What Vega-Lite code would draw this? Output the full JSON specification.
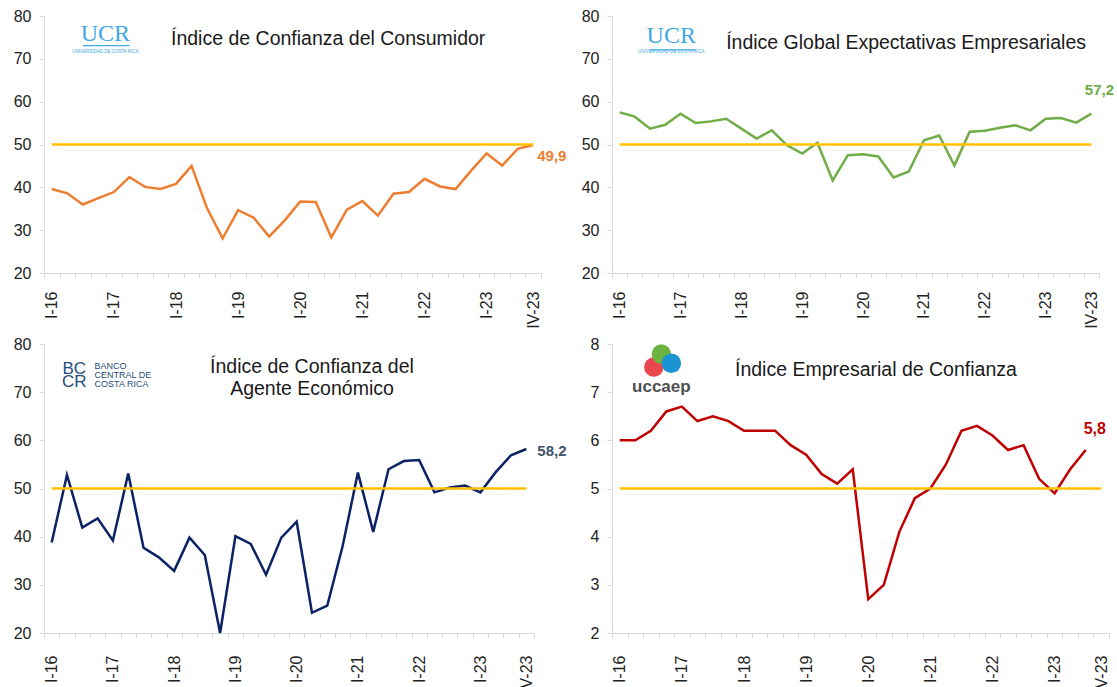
{
  "$schema": "https://vega.github.io/schema/vega-lite/v6.json",
  "background": "white",
  "padding": {"left": 13, "top": 8, "right": 0, "bottom": 0},
  "bounds": "flush",
  "columns": 2,
  "spacing": {"row": 71, "column": 71},
  "config": {
    "locale": {"number": {"decimal": ",", "thousands": ".", "grouping": [3], "currency": ["", ""]}},
    "view": {"stroke": null},
    "font": "Liberation Sans",
    "axis": {"labelFont": "Liberation Sans", "labelFontSize": 16, "labelColor": "#222222", "domainColor": "#D9D9D9", "tickColor": "#D9D9D9", "tickSize": 5, "grid": false, "domainWidth": 1}
  },
  "datasets": {
    "one": [{}],
    "consumidor": [
      {"q": "I-16", "v": 39.6}, {"q": "II-16", "v": 38.6}, {"q": "III-16", "v": 36.0}, {"q": "IV-16", "v": 37.5},
      {"q": "I-17", "v": 38.9}, {"q": "II-17", "v": 42.4}, {"q": "III-17", "v": 40.1}, {"q": "IV-17", "v": 39.6},
      {"q": "I-18", "v": 40.8}, {"q": "II-18", "v": 45.0}, {"q": "III-18", "v": 35.1}, {"q": "IV-18", "v": 28.1},
      {"q": "I-19", "v": 34.7}, {"q": "II-19", "v": 32.9}, {"q": "III-19", "v": 28.5}, {"q": "IV-19", "v": 32.3},
      {"q": "I-20", "v": 36.7}, {"q": "II-20", "v": 36.6}, {"q": "III-20", "v": 28.3}, {"q": "IV-20", "v": 34.8},
      {"q": "I-21", "v": 36.8}, {"q": "II-21", "v": 33.4}, {"q": "III-21", "v": 38.5}, {"q": "IV-21", "v": 38.9},
      {"q": "I-22", "v": 42.0}, {"q": "II-22", "v": 40.2}, {"q": "III-22", "v": 39.6}, {"q": "IV-22", "v": 43.9},
      {"q": "I-23", "v": 47.9}, {"q": "II-23", "v": 45.1}, {"q": "III-23", "v": 49.0}, {"q": "IV-23", "v": 49.9}
    ],
    "expectativas": [
      {"q": "I-16", "v": 57.5}, {"q": "II-16", "v": 56.5}, {"q": "III-16", "v": 53.7}, {"q": "IV-16", "v": 54.6},
      {"q": "I-17", "v": 57.2}, {"q": "II-17", "v": 55.0}, {"q": "III-17", "v": 55.4}, {"q": "IV-17", "v": 56.0},
      {"q": "I-18", "v": 53.7}, {"q": "II-18", "v": 51.4}, {"q": "III-18", "v": 53.3}, {"q": "IV-18", "v": 49.8},
      {"q": "I-19", "v": 47.9}, {"q": "II-19", "v": 50.4}, {"q": "III-19", "v": 41.6}, {"q": "IV-19", "v": 47.5},
      {"q": "I-20", "v": 47.7}, {"q": "II-20", "v": 47.2}, {"q": "III-20", "v": 42.3}, {"q": "IV-20", "v": 43.7},
      {"q": "I-21", "v": 51.0}, {"q": "II-21", "v": 52.1}, {"q": "III-21", "v": 45.1}, {"q": "IV-21", "v": 53.0},
      {"q": "I-22", "v": 53.2}, {"q": "II-22", "v": 53.9}, {"q": "III-22", "v": 54.5}, {"q": "IV-22", "v": 53.3},
      {"q": "I-23", "v": 56.0}, {"q": "II-23", "v": 56.2}, {"q": "III-23", "v": 55.1}, {"q": "IV-23", "v": 57.2}
    ],
    "agente": [
      {"q": "I-16", "v": 38.8}, {"q": "II-16", "v": 52.8}, {"q": "III-16", "v": 41.9}, {"q": "IV-16", "v": 43.8},
      {"q": "I-17", "v": 39.2}, {"q": "II-17", "v": 53.1}, {"q": "III-17", "v": 37.7}, {"q": "IV-17", "v": 35.7},
      {"q": "I-18", "v": 32.9}, {"q": "II-18", "v": 39.8}, {"q": "III-18", "v": 36.2}, {"q": "IV-18", "v": 20.0},
      {"q": "I-19", "v": 40.1}, {"q": "II-19", "v": 38.5}, {"q": "III-19", "v": 32.1}, {"q": "IV-19", "v": 39.8},
      {"q": "I-20", "v": 43.1}, {"q": "II-20", "v": 24.2}, {"q": "III-20", "v": 25.7}, {"q": "IV-20", "v": 38.0},
      {"q": "I-21", "v": 53.3}, {"q": "II-21", "v": 41.0}, {"q": "III-21", "v": 54.0}, {"q": "IV-21", "v": 55.7},
      {"q": "I-22", "v": 55.9}, {"q": "II-22", "v": 49.2}, {"q": "III-22", "v": 50.2}, {"q": "IV-22", "v": 50.6},
      {"q": "I-23", "v": 49.2}, {"q": "II-23", "v": 53.4}, {"q": "III-23", "v": 56.9}, {"q": "IV-23", "v": 58.2}
    ],
    "uccaep": [
      {"q": "I-16", "v": 6.0}, {"q": "II-16", "v": 6.0}, {"q": "III-16", "v": 6.2}, {"q": "IV-16", "v": 6.6},
      {"q": "I-17", "v": 6.7}, {"q": "II-17", "v": 6.4}, {"q": "III-17", "v": 6.5}, {"q": "IV-17", "v": 6.4},
      {"q": "I-18", "v": 6.2}, {"q": "II-18", "v": 6.2}, {"q": "III-18", "v": 6.2}, {"q": "IV-18", "v": 5.9},
      {"q": "I-19", "v": 5.7}, {"q": "II-19", "v": 5.3}, {"q": "III-19", "v": 5.1}, {"q": "IV-19", "v": 5.4},
      {"q": "I-20", "v": 2.7}, {"q": "II-20", "v": 3.0}, {"q": "III-20", "v": 4.1}, {"q": "IV-20", "v": 4.8},
      {"q": "I-21", "v": 5.0}, {"q": "II-21", "v": 5.5}, {"q": "III-21", "v": 6.2}, {"q": "IV-21", "v": 6.3},
      {"q": "I-22", "v": 6.1}, {"q": "II-22", "v": 5.8}, {"q": "III-22", "v": 5.9}, {"q": "IV-22", "v": 5.2},
      {"q": "I-23", "v": 4.9}, {"q": "II-23", "v": 5.4}, {"q": "III-23", "v": 5.8}, {"q": "IV-23", "v": null}
    ]
  },
  "concat": [
    {
      "width": 497, "height": 257,
      "layer": [
        {
          "data": {"name": "consumidor"},
          "mark": {"type": "line", "color": "#ED7D31", "strokeWidth": 2.5},
          "encoding": {
            "x": {"field": "q", "type": "ordinal", "bandPosition": 0.5, "title": null,
              "scale": {"type": "band", "paddingInner": 0, "paddingOuter": 0, "domain": ["I-16","II-16","III-16","IV-16","I-17","II-17","III-17","IV-17","I-18","II-18","III-18","IV-18","I-19","II-19","III-19","IV-19","I-20","II-20","III-20","IV-20","I-21","II-21","III-21","IV-21","I-22","II-22","III-22","IV-22","I-23","II-23","III-23","IV-23"]},
              "axis": {"labelAngle": 270, "tickBand": "extent", "labelPadding": 13, "labelOverlap": false, "labelBound": false, "labelExpr": "indexof(['I-16','I-17','I-18','I-19','I-20','I-21','I-22','I-23','IV-23'], datum.label) >= 0 ? datum.label : ''"}},
            "y": {"field": "v", "type": "quantitative", "title": null, "scale": {"domain": [20, 80], "nice": false, "zero": false}, "axis": {"values": [20, 30, 40, 50, 60, 70, 80], "labelPadding": 8}}
          }
        },
        {
          "data": {"name": "consumidor"},
          "mark": {"type": "line", "color": "#FFC000", "strokeWidth": 2.5},
          "encoding": {"x": {"field": "q", "type": "ordinal", "bandPosition": 0.5, "title": null}, "y": {"datum": 50, "type": "quantitative", "title": null}}
        },
        {
          "data": {"name": "consumidor"},
          "transform": [{"filter": "datum.q == 'IV-23'"}],
          "mark": {"type": "text", "align": "left", "baseline": "middle", "dx": 4, "dy": 11, "fontWeight": "bold", "fontSize": 15, "color": "#ED7D31"},
          "encoding": {"x": {"field": "q", "type": "ordinal", "bandPosition": 0.5, "title": null}, "y": {"field": "v", "type": "quantitative", "title": null}, "text": {"field": "v", "type": "quantitative", "format": ".1f"}}
        },
        {
          "data": {"name": "one"},
          "mark": {"type": "text", "align": "left", "baseline": "middle", "dx": -5, "fontSize": 19.5, "color": "#1A1A1A", "text": "Índice de Confianza del Consumidor"},
          "encoding": {"x": {"datum": "I-18", "type": "ordinal", "bandPosition": 0.5, "title": null}, "y": {"datum": 74.6, "type": "quantitative", "title": null}}
        },
        {
          "data": {"name": "one"},
          "mark": {"type": "text", "align": "center", "baseline": "alphabetic", "dx": 7, "fontSize": 24, "font": "Liberation Serif", "color": "#41A8E6", "text": "UCR"},
          "encoding": {"x": {"datum": "IV-16", "type": "ordinal", "bandPosition": 0.5, "title": null}, "y": {"datum": 74.1, "type": "quantitative", "title": null}}
        },
        {
          "data": {"name": "one"},
          "mark": {"type": "text", "align": "center", "baseline": "middle", "dx": 7, "fontSize": 4.5, "color": "#41A8E6", "text": "UNIVERSIDAD DE COSTA RICA"},
          "encoding": {"x": {"datum": "IV-16", "type": "ordinal", "bandPosition": 0.5, "title": null}, "y": {"datum": 71.6, "type": "quantitative", "title": null}}
        },
        {
          "data": {"name": "one"},
          "mark": {"type": "rule", "color": "#41A8E6", "strokeWidth": 1.2},
          "encoding": {"x": {"datum": "III-16", "type": "ordinal", "title": null}, "x2": {"datum": "II-17"}, "y": {"datum": 73.1, "type": "quantitative", "title": null}}
        }
      ]
    },
    {
      "width": 487, "height": 257,
      "layer": [
        {
          "data": {"name": "expectativas"},
          "mark": {"type": "line", "color": "#70AD47", "strokeWidth": 2.5},
          "encoding": {
            "x": {"field": "q", "type": "ordinal", "bandPosition": 0.5, "title": null,
              "scale": {"type": "band", "paddingInner": 0, "paddingOuter": 0, "domain": ["I-16","II-16","III-16","IV-16","I-17","II-17","III-17","IV-17","I-18","II-18","III-18","IV-18","I-19","II-19","III-19","IV-19","I-20","II-20","III-20","IV-20","I-21","II-21","III-21","IV-21","I-22","II-22","III-22","IV-22","I-23","II-23","III-23","IV-23"]},
              "axis": {"labelAngle": 270, "tickBand": "extent", "labelPadding": 13, "labelOverlap": false, "labelBound": false, "labelExpr": "indexof(['I-16','I-17','I-18','I-19','I-20','I-21','I-22','I-23','IV-23'], datum.label) >= 0 ? datum.label : ''"}},
            "y": {"field": "v", "type": "quantitative", "title": null, "scale": {"domain": [20, 80], "nice": false, "zero": false}, "axis": {"values": [20, 30, 40, 50, 60, 70, 80], "labelPadding": 8}}
          }
        },
        {
          "data": {"name": "expectativas"},
          "mark": {"type": "line", "color": "#FFC000", "strokeWidth": 2.5},
          "encoding": {"x": {"field": "q", "type": "ordinal", "bandPosition": 0.5, "title": null}, "y": {"datum": 50, "type": "quantitative", "title": null}}
        },
        {
          "data": {"name": "expectativas"},
          "transform": [{"filter": "datum.q == 'IV-23'"}],
          "mark": {"type": "text", "align": "center", "baseline": "middle", "dx": 8, "dy": -24, "fontWeight": "bold", "fontSize": 15, "color": "#70AD47"},
          "encoding": {"x": {"field": "q", "type": "ordinal", "bandPosition": 0.5, "title": null}, "y": {"field": "v", "type": "quantitative", "title": null}, "text": {"field": "v", "type": "quantitative", "format": ".1f"}}
        },
        {
          "data": {"name": "one"},
          "mark": {"type": "text", "align": "left", "baseline": "middle", "fontSize": 19.5, "color": "#1A1A1A", "text": "Índice Global Expectativas Empresariales"},
          "encoding": {"x": {"datum": "IV-17", "type": "ordinal", "bandPosition": 0.5, "title": null}, "y": {"datum": 73.8, "type": "quantitative", "title": null}}
        },
        {
          "data": {"name": "one"},
          "mark": {"type": "text", "align": "center", "baseline": "alphabetic", "dx": 6, "fontSize": 24, "font": "Liberation Serif", "color": "#41A8E6", "text": "UCR"},
          "encoding": {"x": {"datum": "IV-16", "type": "ordinal", "bandPosition": 0.5, "title": null}, "y": {"datum": 73.6, "type": "quantitative", "title": null}}
        },
        {
          "data": {"name": "one"},
          "mark": {"type": "text", "align": "center", "baseline": "middle", "dx": 6, "fontSize": 4.5, "color": "#41A8E6", "text": "UNIVERSIDAD DE COSTA RICA"},
          "encoding": {"x": {"datum": "IV-16", "type": "ordinal", "bandPosition": 0.5, "title": null}, "y": {"datum": 71.5, "type": "quantitative", "title": null}}
        },
        {
          "data": {"name": "one"},
          "mark": {"type": "rule", "color": "#41A8E6", "strokeWidth": 1.2},
          "encoding": {"x": {"datum": "III-16", "type": "ordinal", "title": null}, "x2": {"datum": "II-17"}, "y": {"datum": 72.1, "type": "quantitative", "title": null}}
        }
      ]
    },
    {
      "width": 490, "height": 289,
      "layer": [
        {
          "data": {"name": "agente"},
          "mark": {"type": "line", "color": "#0B2265", "strokeWidth": 2.5},
          "encoding": {
            "x": {"field": "q", "type": "ordinal", "bandPosition": 0.5, "title": null,
              "scale": {"type": "band", "paddingInner": 0, "paddingOuter": 0, "domain": ["I-16","II-16","III-16","IV-16","I-17","II-17","III-17","IV-17","I-18","II-18","III-18","IV-18","I-19","II-19","III-19","IV-19","I-20","II-20","III-20","IV-20","I-21","II-21","III-21","IV-21","I-22","II-22","III-22","IV-22","I-23","II-23","III-23","IV-23"]},
              "axis": {"labelAngle": 270, "tickBand": "extent", "labelPadding": 17, "labelOverlap": false, "labelBound": false, "labelExpr": "indexof(['I-16','I-17','I-18','I-19','I-20','I-21','I-22','I-23','IV-23'], datum.label) >= 0 ? datum.label : ''"}},
            "y": {"field": "v", "type": "quantitative", "title": null, "scale": {"domain": [20, 80], "nice": false, "zero": false}, "axis": {"values": [20, 30, 40, 50, 60, 70, 80], "labelPadding": 8}}
          }
        },
        {
          "data": {"name": "agente"},
          "mark": {"type": "line", "color": "#FFC000", "strokeWidth": 2.5},
          "encoding": {"x": {"field": "q", "type": "ordinal", "bandPosition": 0.5, "title": null}, "y": {"datum": 50, "type": "quantitative", "title": null}}
        },
        {
          "data": {"name": "agente"},
          "transform": [{"filter": "datum.q == 'IV-23'"}],
          "mark": {"type": "text", "align": "left", "baseline": "middle", "dx": 11, "dy": 2, "fontWeight": "bold", "fontSize": 15, "color": "#44546A"},
          "encoding": {"x": {"field": "q", "type": "ordinal", "bandPosition": 0.5, "title": null}, "y": {"field": "v", "type": "quantitative", "title": null}, "text": {"field": "v", "type": "quantitative", "format": ".1f"}}
        },
        {
          "data": {"name": "one"},
          "mark": {"type": "text", "align": "center", "baseline": "top", "fontSize": 19.5, "lineHeight": 22, "color": "#1A1A1A", "text": ["Índice de Confianza del", "Agente Económico"]},
          "encoding": {"x": {"datum": "II-20", "type": "ordinal", "bandPosition": 0.5, "title": null}, "y": {"datum": 77.1, "type": "quantitative", "title": null}}
        },
        {
          "data": {"name": "one"},
          "mark": {"type": "text", "align": "center", "baseline": "top", "dx": -8, "fontSize": 17, "lineHeight": 13, "color": "#1F4E79", "text": ["BC", "CR"]},
          "encoding": {"x": {"datum": "III-16", "type": "ordinal", "bandPosition": 0.5, "title": null}, "y": {"datum": 76.5, "type": "quantitative", "title": null}}
        },
        {
          "data": {"name": "one"},
          "mark": {"type": "text", "align": "left", "baseline": "top", "dx": -3, "fontSize": 9, "lineHeight": 9, "color": "#1F4E79", "text": ["BANCO", "CENTRAL DE", "COSTA RICA"]},
          "encoding": {"x": {"datum": "IV-16", "type": "ordinal", "bandPosition": 0.5, "title": null}, "y": {"datum": 76.2, "type": "quantitative", "title": null}}
        }
      ]
    },
    {
      "width": 497, "height": 289,
      "layer": [
        {
          "data": {"name": "uccaep"},
          "mark": {"type": "line", "color": "#C00000", "strokeWidth": 2.5},
          "encoding": {
            "x": {"field": "q", "type": "ordinal", "bandPosition": 0.5, "title": null,
              "scale": {"type": "band", "paddingInner": 0, "paddingOuter": 0, "domain": ["I-16","II-16","III-16","IV-16","I-17","II-17","III-17","IV-17","I-18","II-18","III-18","IV-18","I-19","II-19","III-19","IV-19","I-20","II-20","III-20","IV-20","I-21","II-21","III-21","IV-21","I-22","II-22","III-22","IV-22","I-23","II-23","III-23","IV-23"]},
              "axis": {"labelAngle": 270, "tickBand": "extent", "labelPadding": 17, "labelOverlap": false, "labelBound": false, "labelExpr": "indexof(['I-16','I-17','I-18','I-19','I-20','I-21','I-22','I-23','IV-23'], datum.label) >= 0 ? datum.label : ''"}},
            "y": {"field": "v", "type": "quantitative", "title": null, "scale": {"domain": [2, 8], "nice": false, "zero": false}, "axis": {"values": [2, 3, 4, 5, 6, 7, 8], "labelPadding": 8}}
          }
        },
        {
          "data": {"name": "uccaep"},
          "mark": {"type": "line", "color": "#FFC000", "strokeWidth": 2.5},
          "encoding": {"x": {"field": "q", "type": "ordinal", "bandPosition": 0.5, "title": null}, "y": {"datum": 5, "type": "quantitative", "title": null}}
        },
        {
          "data": {"name": "uccaep"},
          "transform": [{"filter": "datum.q == 'III-23'"}],
          "mark": {"type": "text", "align": "left", "baseline": "middle", "dx": -2, "dy": -21, "fontWeight": "bold", "fontSize": 16, "color": "#C00000"},
          "encoding": {"x": {"field": "q", "type": "ordinal", "bandPosition": 0.5, "title": null}, "y": {"field": "v", "type": "quantitative", "title": null}, "text": {"field": "v", "type": "quantitative", "format": ".1f"}}
        },
        {
          "data": {"name": "one"},
          "mark": {"type": "text", "align": "left", "baseline": "middle", "dx": -9, "fontSize": 19.5, "color": "#1A1A1A", "text": "Índice Empresarial de Confianza"},
          "encoding": {"x": {"datum": "I-18", "type": "ordinal", "bandPosition": 0.5, "title": null}, "y": {"datum": 7.45, "type": "quantitative", "title": null}}
        },
        {
          "data": {"name": "one"},
          "mark": {"type": "point", "shape": "circle", "filled": true, "size": 380, "opacity": 1, "color": "#E8484D", "xOffset": 3},
          "encoding": {"x": {"datum": "III-16", "type": "ordinal", "bandPosition": 0.5, "title": null}, "y": {"datum": 7.52, "type": "quantitative", "title": null}}
        },
        {
          "data": {"name": "one"},
          "mark": {"type": "point", "shape": "circle", "filled": true, "size": 380, "opacity": 1, "color": "#6DB33F", "xOffset": -5},
          "encoding": {"x": {"datum": "IV-16", "type": "ordinal", "bandPosition": 0.5, "title": null}, "y": {"datum": 7.79, "type": "quantitative", "title": null}}
        },
        {
          "data": {"name": "one"},
          "mark": {"type": "point", "shape": "circle", "filled": true, "size": 380, "opacity": 1, "color": "#1C93D2", "xOffset": 5},
          "encoding": {"x": {"datum": "IV-16", "type": "ordinal", "bandPosition": 0.5, "title": null}, "y": {"datum": 7.6, "type": "quantitative", "title": null}}
        },
        {
          "data": {"name": "one"},
          "mark": {"type": "text", "align": "center", "baseline": "middle", "dx": -5, "fontSize": 17, "fontWeight": "bold", "color": "#505050", "text": "uccaep"},
          "encoding": {"x": {"datum": "IV-16", "type": "ordinal", "bandPosition": 0.5, "title": null}, "y": {"datum": 7.11, "type": "quantitative", "title": null}}
        }
      ]
    }
  ]
}
